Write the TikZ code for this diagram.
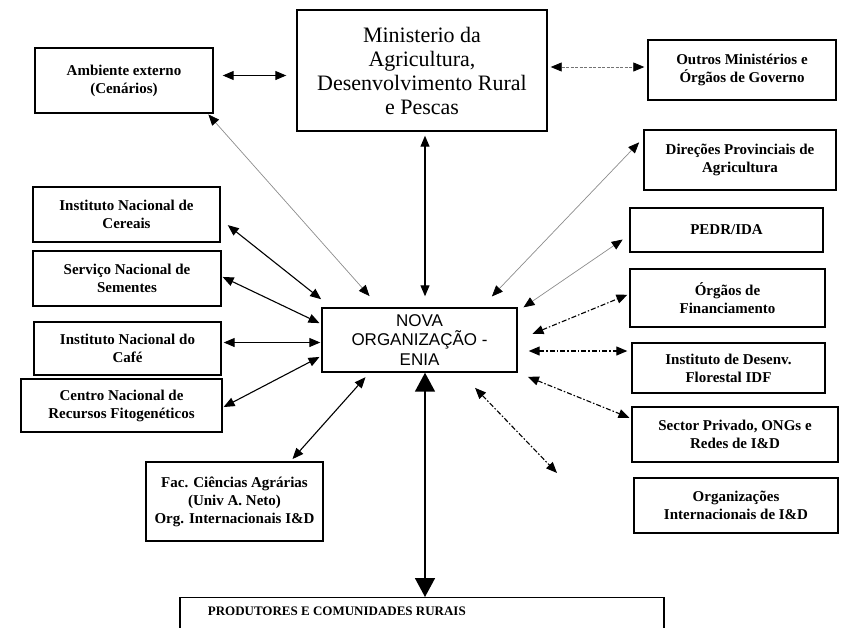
\documentclass[tikz,border=0pt]{standalone}
\usepackage{fontspec}
\setmainfont{Liberation Serif}
\newfontfamily\novafont{Liberation Sans}
\usetikzlibrary{positioning}
\usetikzlibrary{calc}
\usetikzlibrary{arrows.meta}
\tikzstyle{orgbox}=[draw,line width=1.4pt,align=center,inner sep=2pt,font=\fontsize{15}{18}\selectfont\bfseries]
\tikzstyle{link}=[line width=1.1pt,{Triangle[length=11pt,width=9pt]}-{Triangle[length=11pt,width=9pt]}]
\tikzstyle{greylink}=[line width=0.7pt,draw=black!45,{Triangle[length=11pt,width=9pt,color=black]}-{Triangle[length=11pt,width=9pt,color=black]}]
\tikzstyle{dashlink}=[link,dash pattern=on 5pt off 2pt on 1.5pt off 2pt]
\tikzstyle{dotlink}=[line width=0.8pt,draw=black!55,dash pattern=on 3pt off 1.5pt,{Triangle[length=11pt,width=9pt,color=black]}-{Triangle[length=11pt,width=9pt,color=black]}]
\tikzstyle{biglink}=[line width=1.6pt,{Triangle[length=19pt,width=20pt]}-{Triangle[length=19pt,width=20pt]}]

\begin{document}
\begin{tikzpicture}[x=1pt,y=-1pt]
			\useasboundingbox (0,0) rectangle (843,627);
			
			\node [orgbox, minimum width=250pt, minimum height=121pt, font=\fontsize{22}{24}\selectfont] (min) at (422,70.5) {Ministerio da\\Agricultura,\\Desenvolvimento Rural\\e Pescas};
			\node [orgbox, minimum width=178pt, minimum height=65pt] (amb) at (124,80.5) {Ambiente externo\\(Cenários)};
			\node [orgbox, minimum width=188pt, minimum height=60pt] (outros) at (742,70) {Outros Ministérios e\\Órgãos de Governo};
			\node [orgbox, minimum width=192pt, minimum height=60pt] (dir) at (740,160) {Direções Provinciais de\\Agricultura};
			
			\node [orgbox, minimum width=187pt, minimum height=55pt] (cer) at (126.5,214.5) {Instituto Nacional de\\Cereais};
			\node [orgbox, minimum width=188pt, minimum height=55pt] (sem) at (127,278.5) {Serviço Nacional de\\Sementes};
			\node [orgbox, minimum width=187pt, minimum height=53pt] (cafe) at (127.5,348.5) {Instituto Nacional do\\Café};
			\node [orgbox, minimum width=201pt, minimum height=53pt] (cnrf) at (121.5,405.5) {Centro Nacional de\\Recursos Fitogenéticos};
			\node [orgbox, minimum width=177pt, minimum height=79pt] (fac) at (234.5,501.5) {Fac. Ciências Agrárias\\(Univ A. Neto)\\Org. Internacionais I\&D};
			
			\node [orgbox, minimum width=195pt, minimum height=64pt, font=\novafont\fontsize{17}{19.5}\selectfont] (nova) at (419.5,340) {NOVA\\ORGANIZAÇÃO -\\ENIA};
			
			\node [orgbox, minimum width=193pt, minimum height=44pt] (pedr) at (726.5,230) {PEDR/IDA};
			\node [orgbox, minimum width=195pt, minimum height=58pt] (orgf) at (727.5,298) {Órgãos de\\Financiamento};
			\node [orgbox, minimum width=193pt, minimum height=50pt] (idf) at (728.5,368) {Instituto de Desenv.\\Florestal IDF};
			\node [orgbox, minimum width=206pt, minimum height=55pt] (priv) at (735,434.5) {Sector Privado, ONGs e\\Redes de I\&D};
			\node [orgbox, minimum width=204pt, minimum height=55pt] (oint) at (736,505.5) {Organizações\\Internacionais de I\&D};
			
			\node [orgbox, minimum width=484pt, minimum height=46pt, anchor=north] (prod) at (422,597) {};
			\node [font=\fontsize{13}{15}\selectfont\bfseries, anchor=west] (prodtxt) at ([xshift=25pt,yshift=-14pt]prod.north west) {PRODUTORES E COMUNIDADES RURAIS};
			\coordinate (ointpt) at (557,473);
			
			\draw[link,shorten <=9pt,shorten >=10pt] ($(amb.east)+(0pt,5pt)$) -- ($(amb.east -| min.west)+(0pt,5pt)$);
			\draw[dotlink,shorten <=3pt,shorten >=3pt] ($(outros.west -| min.east)+(0pt,3pt)$) -- ($(outros.west)+(0pt,3pt)$);
			\draw[link,shorten <=4pt,shorten >=11pt] ($(min.south)+(3pt,0pt)$) -- ($(min.south |- nova.north)+(3pt,0pt)$);
			
			\draw[greylink,shorten <=1pt,shorten >=15pt] ($(amb.south east)+(-6pt,0pt)$) -- ($(nova.north)+(-40pt,0pt)$);
			\draw[greylink,shorten <=15pt,shorten >=6pt] ($(nova.north)+(62pt,0pt)$) -- ($(dir.west)+(0pt,22pt)$);
			\draw[greylink,shorten <=7pt,shorten >=8pt] ($(nova.north east)+(0pt,-4pt)$) -- ($(pedr.west)+(0pt,-5pt)$);
			
			\draw[dashlink,shorten <=16pt,shorten >=2pt] (nova.east) -- ($(orgf.west)+(0pt,4pt)$);
			\draw[dashlink,shorten <=11pt,shorten >=4pt] ($(nova.east)+(0pt,-11pt)$) -- ($(nova.east -| idf.west)+(0pt,-11pt)$);
			\draw[dashlink,shorten <=11pt,shorten >=2pt] (nova.south east) -- ($(priv.west)+(0pt,16pt)$);
			\draw[dashlink,shorten <=21pt] ($(nova.south)+(41pt,0pt)$) -- (ointpt);
			
			\draw[link,shorten <=9pt,shorten >=13pt] ($(cer.east)+(0pt,-5pt)$) -- ($(nova.north west)+(10pt,0pt)$);
			\draw[link,shorten <=1pt,shorten >=2pt] ($(sem.east)+(0pt,2pt)$) -- ($(nova.west)+(0pt,16pt)$);
			\draw[link,shorten <=2pt,shorten >=1pt] ($(cafe.east)+(0pt,6pt)$) -- ($(cafe.east -| nova.west)+(0pt,6pt)$);
			\draw[link,shorten <=1pt,shorten >=2pt] ($(cnrf.east)+(0pt,-2pt)$) -- ($(nova.west)+(0pt,-16pt)$);
			\draw[link,shorten <=6pt,shorten >=3pt] ($(nova.south)+(-50pt,0pt)$) -- ($(fac.north)+(56pt,0pt)$);
			
			\draw[biglink] ($(nova.south)+(5.5pt,0pt)$) -- ($(nova.south |- prod.north)+(5.5pt,0pt)$);
\end{tikzpicture}
\end{document}
